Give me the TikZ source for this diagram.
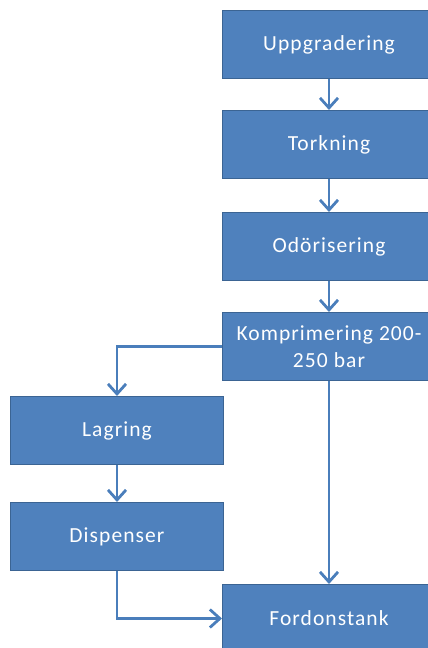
\documentclass[tikz,border=0pt]{standalone}
\usepackage{fontspec}
\setmainfont{Carlito}
\newfontfamily\boxfont[LetterSpace=5]{Carlito}
\usetikzlibrary{arrows.meta}
\definecolor{boxfill}{HTML}{4F81BD}
\definecolor{boxline}{HTML}{3B6493}
\definecolor{conn}{HTML}{4A7EBB}
\begin{document}
\begin{tikzpicture}[x=1pt,y=-1pt,
  box/.style={draw=boxline, line width=1pt, fill=boxfill, text=white,
    minimum width=213pt, minimum height=68pt, inner sep=0pt,
    font=\boxfont\fontsize{21.5}{27}\selectfont, align=center, anchor=north west},
  conn/.style={draw=conn, line width=2.8pt,
    -{Straight Barb[length=10pt,width=18pt,line width=2.8pt]}}]
\useasboundingbox (0,0) rectangle (428,648);
\clip (0,0) rectangle (428,648);
\node[box] (upp) at (222,10) {Uppgradering};
\node[box] (tork) at (222,110) {Torkning};
\node[box] (odo) at (222,212) {Odörisering};
\node[box] (komp) at (222,312) {Komprimering 200-\\250 bar};
\node[box] (lag) at (10,396) {Lagring};
\node[box] (disp) at (10,502) {Dispenser};
\node[box] (ford) at (222,584) {Fordonstank};
\draw[conn] (upp.south) -- (tork.north);
\draw[conn] (tork.south) -- (odo.north);
\draw[conn] (odo.south) -- (komp.north);
\draw[conn] (komp.west) -| (lag.north);
\draw[conn] (lag.south) -- (disp.north);
\draw[conn] (disp.south) |- (ford.west);
\draw[conn] (komp.south) -- (ford.north);
\end{tikzpicture}
\end{document}
